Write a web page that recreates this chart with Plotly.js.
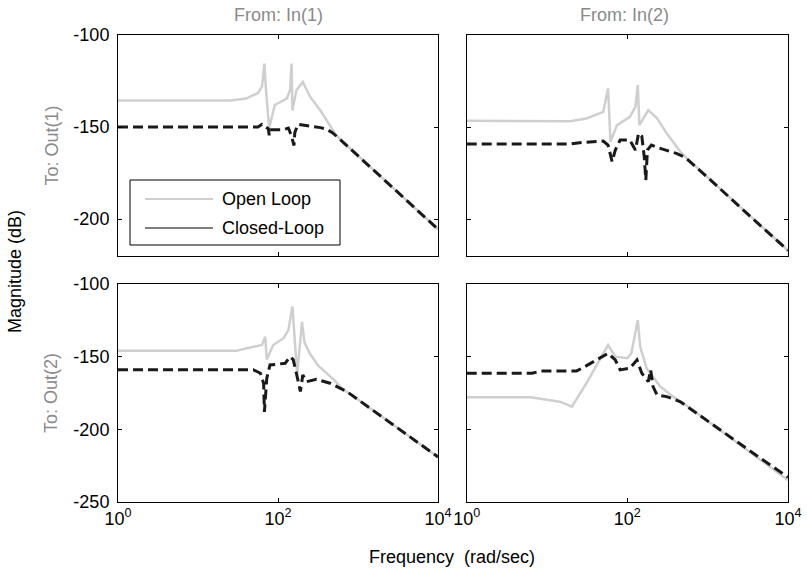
<!DOCTYPE html>
<html>
<head>
<meta charset="utf-8">
<script src="https://cdn.plot.ly/plotly-3.0.1.min.js"></script>
<style>html,body{margin:0;padding:0;background:#fff;}#chart{width:807px;height:568px;}</style>
</head>
<body>
<div id="chart"></div>
<script>
// ---- Data (frequency in rad/sec, magnitude in dB) ----
// Out(1) <- In(1)
const f11Open = [1, 25.1, 40, 56.2, 63.1, 67.6, 70.8, 77.6, 91.2, 128.8, 141.3, 147.9, 151.4, 169.8, 204.2, 251.2, 338.8, 446.7, 524.8, 631, 1000, 3162, 10000];
const m11Open = [-135.5, -135.5, -134.5, -131.5, -128, -115.5, -130, -150.5, -138, -134.5, -130, -115.5, -141, -130, -125.5, -133.5, -141, -149, -154, -157.5, -165.5, -185.5, -205.5];
const f11Closed = [1, 56.2, 63.1, 69.2, 75.9, 77.6, 79.4, 87.1, 114.8, 134.9, 147.9, 158.5, 162.2, 177.8, 218.8, 338.8, 398, 478.6, 562.3, 1000, 3162, 10000];
const m11Closed = [-150, -150, -148.5, -150, -151, -154.5, -151.5, -151.5, -151.5, -150.5, -155, -160, -153, -148.5, -149, -150.3, -151, -153, -155.7, -165.5, -185.5, -205.5];

// Out(1) <- In(2)
const f12Open = [1, 19.5, 30.9, 50.1, 57.5, 61.7, 74.1, 107.2, 125.9, 134.9, 141.3, 182, 234.4, 309, 457.1, 524.8, 1000, 3162, 10000];
const m12Open = [-146.6, -146.8, -145.3, -141.7, -129, -158, -149, -144.4, -139, -127.2, -149, -140.8, -145.3, -153.4, -163.4, -166, -177.3, -197.3, -217];
const f12Closed = [1, 19.5, 28.2, 50.1, 57.5, 64.6, 70.8, 81.3, 107.2, 125.9, 138, 151.4, 162.2, 169.8, 177.8, 199.5, 257, 407.4, 524.8, 1000, 3162, 10000];
const m12Closed = [-159.2, -159.2, -158.3, -157.6, -159.8, -168.8, -162.5, -157, -157, -162.5, -153.4, -155, -166, -178.8, -162.5, -159.8, -161.6, -164.3, -166.5, -177.3, -197.3, -217];

// Out(2) <- In(1)
const f21Open = [1, 30.2, 40.7, 63.1, 69.2, 72.4, 87.1, 117.5, 134.9, 151.4, 173.8, 199.5, 213.8, 251.2, 316, 398, 501, 631, 1000, 3162, 10000];
const m21Open = [-146, -146, -144.2, -142, -136.2, -152, -142, -137.3, -131.6, -115.5, -162, -126, -140, -148, -156, -161, -166, -172, -179.5, -199.2, -219];
const f21Closed = [1, 31.6, 49.0, 60.3, 66.1, 67.6, 72.4, 79.4, 123, 141.3, 154.9, 169.8, 190.5, 204.2, 229.1, 302, 446.7, 724.4, 1000, 3162, 10000];
const m21Closed = [-159, -159, -159, -161.4, -168.3, -188, -164.9, -155.7, -154.6, -150, -152, -161.4, -174, -162.6, -167.2, -165.6, -168.3, -174, -179.5, -199.2, -219];

// Out(2) <- In(2)
const f22Open = [1, 6.2, 14.5, 20.4, 30.9, 45.7, 57.5, 70.8, 100, 112.2, 134.9, 144.5, 173.8, 257, 371.5, 575.4, 1000, 3162, 10000];
const m22Open = [-178, -178, -181, -184.4, -168.3, -152.3, -142, -150, -151.1, -147.7, -124.8, -143.1, -158, -170.6, -177.5, -184.4, -194.2, -214.6, -235];
const f22Closed = [1, 6.5, 8.5, 23.4, 28.2, 41.7, 57.5, 70.8, 81.3, 107.2, 131.8, 151.4, 182, 195, 208.9, 234.4, 309, 457.1, 1000, 3162, 10000];
const m22Closed = [-161.4, -161.4, -159.8, -159.8, -157.5, -152.3, -147.7, -152.3, -159.1, -158, -152.3, -161.4, -167.2, -159.1, -170.6, -176.4, -177.5, -181, -194.5, -213.8, -233];

const xTickVals = [1, 100, 10000];
const xTickText = ['10<sup>0</sup>', '10<sup>2</sup>', '10<sup>4</sup>'];
const yTopVals = [-200, -150, -100];
const yBotVals = [-250, -200, -150, -100];
const legendNames = ['Open Loop', 'Closed-Loop'];

// ---- Styles ----
const openLine = {color: '#cfcfcf', width: 2.5};
const closedLine = {color: '#1a1a1a', width: 3, dash: '10px,5px'};
const FONT = 'Liberation Sans, Arial, sans-serif';
const W = 807, H = 568;
const px = v => v / W;
const py = v => 1 - v / H;

function tr(x, y, line, xa, ya) {
  return {x: x, y: y, type: 'scatter', mode: 'lines', line: line, xaxis: xa, yaxis: ya, showlegend: false, hoverinfo: 'skip'};
}
const data = [
  tr(f11Open, m11Open, openLine, 'x', 'y'),
  tr(f11Closed, m11Closed, closedLine, 'x', 'y'),
  tr(f12Open, m12Open, openLine, 'x2', 'y2'),
  tr(f12Closed, m12Closed, closedLine, 'x2', 'y2'),
  tr(f21Open, m21Open, openLine, 'x3', 'y3'),
  tr(f21Closed, m21Closed, closedLine, 'x3', 'y3'),
  tr(f22Open, m22Open, openLine, 'x4', 'y4'),
  tr(f22Closed, m22Closed, closedLine, 'x4', 'y4')
];

const colL = [px(118), px(438)], colR = [px(466.7), px(788)];
const rowT = [py(256), py(35)], rowB = [py(502), py(284)];

function xa(dom, anchor, labels) {
  return {domain: dom, anchor: anchor, type: 'log', range: [0, 4], tickvals: xTickVals, ticktext: xTickText,
    showticklabels: labels, ticks: 'inside', ticklen: 4, tickcolor: '#000', showline: true, linecolor: '#000', linewidth: 1,
    mirror: 'ticks', showgrid: false, zeroline: false, tickfont: {family: FONT, size: 18, color: '#000'}};
}
function ya(dom, anchor, range, vals, labels) {
  return {domain: dom, anchor: anchor, range: range, tickvals: vals, ticktext: vals.map(v => String(v)),
    showticklabels: labels, ticks: 'inside', ticklen: 4, tickcolor: '#000', showline: true, linecolor: '#000', linewidth: 1,
    mirror: 'ticks', showgrid: false, zeroline: false, tickfont: {family: FONT, size: 18, color: '#000'}, ticklabelstandoff: 4};
}

const gray = '#8a8a8a';
function ann(text, x, y, opts) {
  return Object.assign({text: text, x: x, y: y, xref: 'paper', yref: 'paper', showarrow: false,
    xanchor: 'center', yanchor: 'middle', font: {family: FONT, size: 18, color: '#000'}}, opts || {});
}

const layout = {
  width: W, height: H, margin: {l: 0, r: 0, t: 0, b: 0}, paper_bgcolor: '#fff', plot_bgcolor: '#fff',
  showlegend: false,
  xaxis: xa(colL, 'y', false),
  yaxis: ya(rowT, 'x', [-220, -100], yTopVals, true),
  xaxis2: xa(colR, 'y2', false),
  yaxis2: ya(rowT, 'x2', [-220, -100], yTopVals, false),
  xaxis3: xa(colL, 'y3', true),
  yaxis3: ya(rowB, 'x3', [-250, -100], yBotVals, true),
  xaxis4: xa(colR, 'y4', true),
  yaxis4: ya(rowB, 'x4', [-250, -100], yBotVals, false),
  shapes: [
    {type: 'rect', xref: 'paper', yref: 'paper', x0: px(130), x1: px(340), y0: py(245), y1: py(180), line: {color: '#000', width: 1}, fillcolor: '#fff', layer: 'above'},
    {type: 'line', xref: 'paper', yref: 'paper', x0: px(145), x1: px(213), y0: py(199), y1: py(199), line: {color: openLine.color, width: 2}},
    {type: 'line', xref: 'paper', yref: 'paper', x0: px(145), x1: px(213), y0: py(228), y1: py(228), line: {color: '#000', width: 1}}
  ],
  annotations: [
    ann('From: In(1)', px(278), py(15), {font: {family: FONT, size: 18, color: gray}}),
    ann('From: In(2)', px(624), py(15), {font: {family: FONT, size: 18, color: gray}}),
    ann('To: Out(1)', px(51), py(145.5), {textangle: -90, font: {family: FONT, size: 18, color: gray}}),
    ann('To: Out(2)', px(51), py(393), {textangle: -90, font: {family: FONT, size: 18, color: gray}}),
    ann('Magnitude (dB)', px(15), py(272), {textangle: -90}),
    ann('Frequency  (rad/sec)', px(452), py(557)),
    ann(legendNames[0], px(220), py(199), {xanchor: 'left'}),
    ann(legendNames[1], px(220), py(228), {xanchor: 'left'})
  ]
};

Plotly.newPlot('chart', data, layout, {staticPlot: true, displayModeBar: false});
</script>
</body>
</html>
